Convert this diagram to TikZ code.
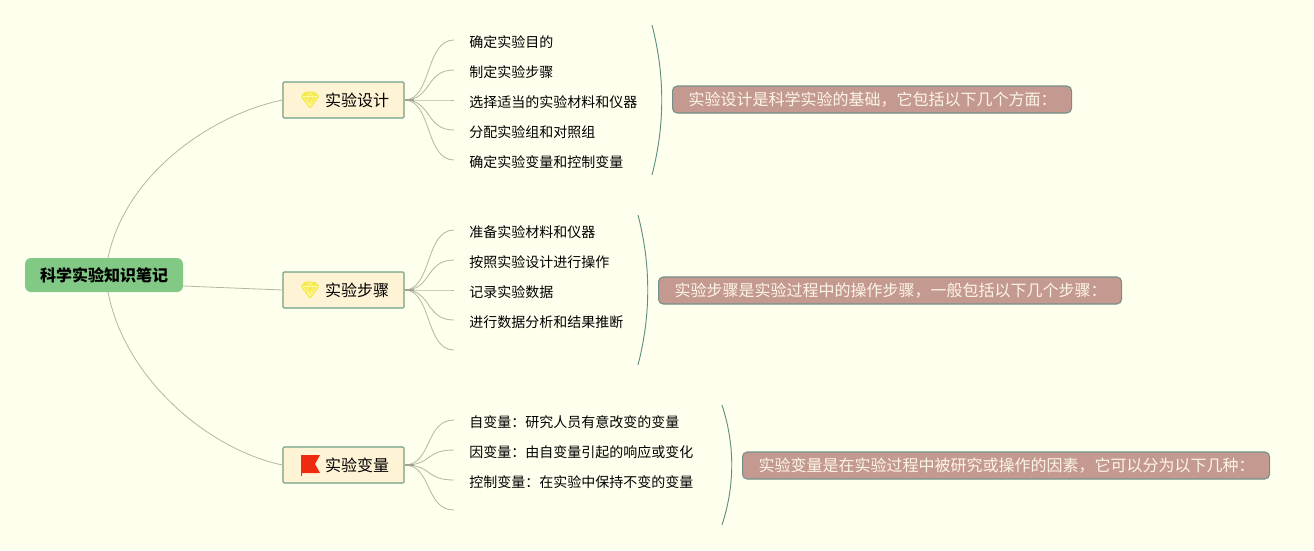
\documentclass[tikz,border=0pt]{standalone}
\usepackage{fontspec}
\setmainfont{Noto Sans CJK SC}
\definecolor{bgc}{HTML}{FFFFEE}
\definecolor{rootc}{HTML}{82C986}
\definecolor{topicc}{HTML}{FFF3D6}
\definecolor{topicb}{HTML}{6FA088}
\definecolor{callc}{HTML}{C49A90}
\definecolor{callb}{HTML}{74908A}
\definecolor{callt}{HTML}{FDF4E8}
\definecolor{linkc}{HTML}{B4B5A2}
\definecolor{bracec}{HTML}{5F9080}
\definecolor{gemc}{HTML}{F5EA50}
\definecolor{gemd}{HTML}{FFF9A8}
\definecolor{flagc}{HTML}{EE2B10}
\newcommand{\gemicon}[1]{%
  \begin{scope}[shift={(#1)}]
    \fill[gemc,rounded corners=1pt] (-9.5,-3.5) -- (-5,-8.5) -- (5,-8.5) -- (9.5,-3.5) -- (0,9) -- cycle;
    \draw[gemd,line width=0.4pt] (-7,-3.5) -- (7,-3.5) (-3,-3.5) -- (0,6) -- (3,-3.5) (-7,-3.5) -- (0,6) -- (7,-3.5) (0,-7) -- (-3,-3.5) (0,-7) -- (3,-3.5);
  \end{scope}}
\tikzset{
  x=0.75pt,y=-0.75pt,
  rootbox/.style={draw=none,fill=rootc,rounded corners=4.5pt,minimum width=118.5pt,minimum height=25.5pt,inner sep=0pt,font=\fontsize{12}{14}\selectfont\bfseries},
  topicbox/.style={draw=topicb,line width=0.8pt,fill=topicc,rounded corners=0.8pt,minimum width=90.75pt,minimum height=27pt,inner sep=0pt,font=\fontsize{12}{14}\selectfont},
  leaf/.style={anchor=west,inner ysep=0pt,inner xsep=11.25pt,text height=11pt,text depth=0pt,font=\fontsize{10.5}{12}\selectfont},
  callout/.style={anchor=west,draw=callb,line width=0.8pt,fill=callc,rounded corners=3.5pt,text=callt,minimum height=20.25pt,inner ysep=0pt,inner xsep=12pt,align=left,font=\fontsize{12}{14}\selectfont},
  link/.style={draw=linkc,line width=0.6pt},
  hub/.style={draw=linkc!90!black,line width=1.2pt},
  bracket/.style={draw=bracec,line width=0.7pt},
}
\begin{document}
\begin{tikzpicture}
\useasboundingbox (0,0) rectangle (1314,550);
\fill[bgc] (0,0) rectangle (1314,550);

\node[rootbox] (root) at (104,275) {科学实验知识笔记};
\node[topicbox] (t1) at (343.5,100) {\hspace*{20.25pt}实验设计};
\node[topicbox] (t2) at (343.5,290) {\hspace*{20.25pt}实验步骤};
\node[topicbox] (t3) at (343.5,465) {\hspace*{20.25pt}实验变量};

\coordinate (rt) at (108,258);
\coordinate (rb) at (108,292);
\coordinate (rm) at (183,286);
\coordinate (cx) at (425,0);
\draw[link] (rt) .. controls (125,175) and (210,115) .. (t1.west);
\draw[link] (rm) -- (t2.west);
\draw[link] (rb) .. controls (125,380) and (210,450) .. (t3.west);

\gemicon{310,100}
\gemicon{310,290}
\fill[flagc] (301,455) -- (320,455) -- (315,464) -- (320,473) -- (302,473) -- cycle;
\draw[flagc,line width=0.8pt] (301.5,455) -- (301.5,476);

% leaves of topic 1
\node[leaf] (a1) at (454,40) {确定实验目的};
\node[leaf] (a2) at (454,70) {制定实验步骤};
\node[leaf] (a3) at (454,100) {选择适当的实验材料和仪器};
\node[leaf] (a4) at (454,130) {分配实验组和对照组};
\node[leaf] (a5) at (454,160) {确定实验变量和控制变量};
\foreach \n in {a1,a2,a3,a4,a5}
  \draw[link] (t1.east) .. controls (432,100) and (cx |- \n.west) .. (\n.west);
\draw[hub] (t1.east) -- ++(9,0);

% leaves of topic 2
\node[leaf] (b1) at (454,230) {准备实验材料和仪器};
\node[leaf] (b2) at (454,260) {按照实验设计进行操作};
\node[leaf] (b3) at (454,290) {记录实验数据};
\node[leaf] (b4) at (454,320) {进行数据分析和结果推断};
\coordinate (b5) at (454,350);
\foreach \n in {b1,b2,b3,b4}
  \draw[link] (t2.east) .. controls (432,290) and (cx |- \n.west) .. (\n.west);
\draw[link] (t2.east) .. controls (432,290) and (cx |- b5) .. (b5);
\draw[hub] (t2.east) -- ++(9,0);

% leaves of topic 3
\node[leaf] (c1) at (454,420) {自变量：研究人员有意改变的变量};
\node[leaf] (c2) at (454,450) {因变量：由自变量引起的响应或变化};
\node[leaf] (c3) at (454,480) {控制变量：在实验中保持不变的变量};
\coordinate (c4) at (454,510);
\foreach \n in {c1,c2,c3}
  \draw[link] (t3.east) .. controls (432,465) and (cx |- \n.west) .. (\n.west);
\draw[link] (t3.east) .. controls (432,465) and (cx |- c4) .. (c4);
\draw[hub] (t3.east) -- ++(9,0);

% brackets
\coordinate (k1a) at (652,25); \coordinate (k1b) at (652,175);
\coordinate (k2a) at (638,215); \coordinate (k2b) at (638,365);
\coordinate (k3a) at (722,405); \coordinate (k3b) at (722,525);
\draw[bracket] (k1a) .. controls (665,75) and (665,125) .. (k1b);
\draw[bracket] (k2a) .. controls (651,265) and (651,315) .. (k2b);
\draw[bracket] (k3a) .. controls (735,445) and (735,485) .. (k3b);

% callouts
\node[callout,text width=275.25pt] (s1) at (672,99.5) {实验设计是科学实验的基础，它包括以下几个方面：};
\node[callout,text width=323.25pt] (s2) at (658,290.5) {实验步骤是实验过程中的操作步骤，一般包括以下几个步骤：};
\node[callout,text width=371.25pt] (s3) at (742,465.5) {实验变量是在实验过程中被研究或操作的因素，它可以分为以下几种：};
\end{tikzpicture}
\end{document}
